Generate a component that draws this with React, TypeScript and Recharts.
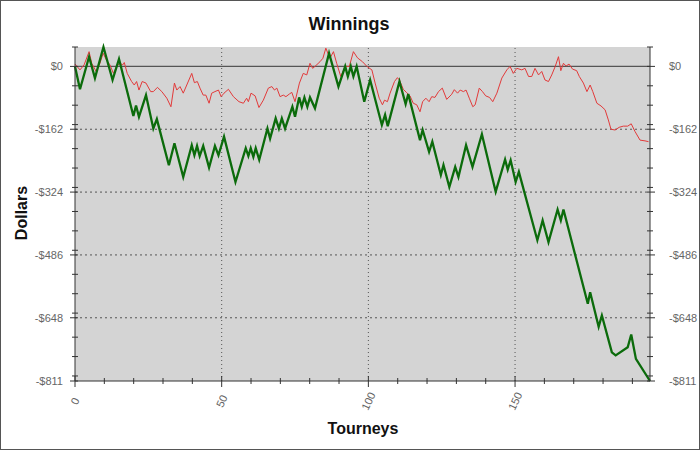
import React from 'react';
import { LineChart, Line, XAxis, YAxis, CartesianGrid, ReferenceLine } from 'recharts';

// [tourney, dollars]
const redPts: [number, number][] = [
  [0, 6], [1.7, -9], [3.1, 4], [4.8, 38], [5.7, 8], [7.2, -13], [8.5, 8], [9.6, 34], [10.8, 15], [11.9, 4],
  [13.1, -18], [14.2, 0], [15.3, 8], [16.3, 4], [16.8, 10], [17.8, -18], [19.3, -39], [20.2, -48], [21, -39], [21.8, -61],
  [22.9, -39], [24.2, -43], [25.8, -65], [26.7, -65], [28.1, -54], [29.6, -65], [31.3, -82], [32.7, -104], [33.9, -43], [34.7, -61],
  [35.8, -52], [36.9, -69], [39.8, -18], [40.7, -42], [41.7, -39], [42.6, -56], [43.7, -74], [44.6, -74], [45.7, -95], [46.6, -69],
  [47.7, -65], [48.9, -61], [49.8, -78], [50.8, -69], [52.3, -59], [54, -78], [55.9, -91], [57.4, -95], [58.5, -82], [59.1, -91],
  [60, -69], [61.4, -76], [62.7, -106], [64.2, -87], [65.9, -56], [67.1, -52], [68, -61], [68.8, -56], [69.9, -78], [71, -74],
  [71.9, -78], [73.1, -71], [73.9, -67], [75, -91], [76.5, -43], [77.8, -18], [79, -22], [80.1, 8], [81, -5], [81.8, 0],
  [83.5, 12], [84.5, 21], [85.5, 47], [86.9, 21], [88.1, 38], [89.2, 8], [90.6, -26], [92.1, 0], [93.5, 0], [94.9, 38],
  [96.3, 22], [98, 12], [99.5, 0], [101.2, -9], [102.3, -43], [103.7, -82], [104.8, -99], [105.5, -87], [106.5, -91], [107.4, -69],
  [108.9, -39], [109.9, -29], [110.6, -35], [111.9, -59], [113.1, -68], [114.2, -76], [115.3, -95], [116.5, -99], [117.6, -117], [118.5, -91],
  [119.6, -82], [120.7, -91], [121.6, -78], [122.7, -80], [123.9, -65], [125.2, -56], [126.7, -85], [128.4, -72], [129.3, -60], [130.4, -69],
  [131.3, -61], [132.4, -65], [133.3, -61], [134.4, -82], [135.6, -104], [136.4, -99], [137.8, -56], [138.9, -65], [140, -76], [141.3, -80],
  [142.4, -91], [143.8, -69], [145.5, -30], [147.2, -9], [148.3, 0], [149.4, -18], [150.6, -5], [152.3, -9], [153.4, -5], [154.6, -26],
  [155.7, -26], [156.8, -5], [158, -22], [159.1, -13], [160.2, -35], [161.4, -39], [162.5, -22], [163.7, 0], [164.8, 25], [165.6, -11],
  [166.5, 8], [167.4, 1], [168.4, 6], [169.6, -7], [171, -11], [171.9, -26], [173.3, -43], [174.5, -65], [175.6, -48], [176.5, -65],
  [177.9, -95], [179.3, -102], [180.7, -112], [181.8, -138], [182.7, -162], [184.1, -164], [185.5, -157], [186.9, -154], [188.4, -154], [189.6, -148],
  [190.9, -168], [192.6, -190], [194.3, -192], [195.5, -194],
];

const greenPts: [number, number][] = [
  [0, 0], [1.7, -59], [4.8, 25], [6.8, -30], [9.7, 50], [12.8, -35], [15, 19], [19.9, -128], [20.8, -101], [21.8, -130],
  [24.2, -74], [26.7, -160], [27.9, -136], [32, -255], [33.9, -198], [36.9, -285], [39.8, -203], [40.7, -229], [41.6, -205], [42.5, -231],
  [43.7, -205], [45.7, -261], [47.7, -205], [48.9, -229], [50.8, -181], [54.7, -298], [58.2, -211], [59.1, -231], [59.9, -211], [60.8, -233],
  [61.6, -211], [62.8, -241], [65.6, -160], [66.5, -186], [68.4, -134], [69.5, -160], [70.5, -134], [71.6, -160], [74.1, -104], [75, -130],
  [76.4, -80], [77.3, -104], [78.2, -80], [79.2, -104], [80.1, -80], [81.8, -108], [86.6, 34], [89.8, -52], [92.1, 0], [93, -26],
  [94, 0], [94.9, -26], [96, 0], [98.6, -91], [100.6, -35], [104.6, -151], [105.7, -125], [106.6, -154], [110.6, -39], [112.7, -97],
  [113.6, -71], [117.6, -190], [118.5, -164], [120.7, -220], [121.8, -194], [124.7, -280], [125.6, -254], [127.6, -311], [129.6, -259], [130.7, -285],
  [133.3, -203], [135.5, -259], [138.7, -175], [143.4, -323], [146.6, -240], [147.5, -266], [148.5, -242], [150.2, -298], [151.3, -272], [157.6, -448],
  [159.4, -397], [161.4, -453], [164.5, -369], [165.6, -397], [166.5, -369], [174.8, -612], [175.6, -582], [178.5, -671], [179.6, -642], [183, -737],
  [184.3, -745], [188.4, -724], [189.6, -691], [191.2, -754], [196, -811],
];

const xMajor = [0, 50, 100, 150];
const xTicks = [0, 10, 20, 30, 40, 50, 60, 70, 80, 90, 100, 110, 120, 130, 140, 150, 160, 170, 180, 190];
const yMajor = [0, -162, -324, -486, -648, -811];
const yMinor = [50, -50, -100, -150, -212, -262, -312, -374, -424, -474, -536, -586, -636, -698, -748, -798];
const yTicks = [...yMajor, ...yMinor].sort((a, b) => b - a);

const redData = redPts.map(([t, v]) => ({ t, v }));
const greenData = greenPts.map(([t, v]) => ({ t, v }));

const font = '"Liberation Sans", Arial, sans-serif';
const axisCol = '#333';
const lblCol = '#666';
const yDomain: [number, number] = [-811, 50];
const money = (v: number) => (v === 0 ? '$0' : `-$${Math.abs(v)}`);

const XTick = (p: any) => {
  const { x, y, payload } = p;
  const major = xMajor.includes(payload.value);
  return (
    <g>
      <line x1={x} x2={x} y1={y - (major ? 5 : 3)} y2={y + (major ? 6 : 3)} stroke={axisCol} />
      {major && (
        <text x={x} y={y + 20} textAnchor="middle" dominantBaseline="central" fontSize={11} fill={lblCol}
          fontFamily={font} transform={`rotate(-65 ${x} ${y + 20})`}>{payload.value}</text>
      )}
    </g>
  );
};

const LeftTick = (p: any) => {
  const { x, y, payload } = p;
  const major = yMajor.includes(payload.value);
  return (
    <g>
      <line x1={x - (major ? 5 : 3)} x2={x + 3} y1={y} y2={y} stroke={axisCol} />
      {major && (
        <text x={x - 12} y={y} textAnchor="end" dominantBaseline="central" fontSize={11} fill={lblCol}
          fontFamily={font}>{money(payload.value)}</text>
      )}
    </g>
  );
};

const RightTick = (p: any) => {
  const { x, y, payload } = p;
  const major = yMajor.includes(payload.value);
  return (
    <g>
      <line x1={x - 3} x2={x + (major ? 5 : 3)} y1={y} y2={y} stroke={axisCol} />
      {major && (
        <text x={x + 19} y={y} textAnchor="start" dominantBaseline="central" fontSize={11} fill={lblCol}
          fontFamily={font}>{money(payload.value)}</text>
      )}
    </g>
  );
};

export default function App() {
  return (
    <div style={{ position: 'absolute', left: 0, top: 0, width: 700, height: 450, background: '#fff', boxSizing: 'border-box', border: '1px solid #555' }}>
      <div style={{ position: 'absolute', left: -1, top: -1 }}>
        <LineChart width={700} height={450} margin={{ top: 47, right: 0, bottom: 0, left: 15 }}>
          <CartesianGrid horizontal={false} vertical={false} fill="#d4d4d4" stroke="none" yAxisId="left" />
          <XAxis dataKey="t" type="number" domain={[0, 196]} ticks={xTicks} interval={0} allowDuplicatedCategory={false}
            height={69} tickSize={0} tickMargin={0} tickLine={false} stroke={axisCol} tick={XTick} />
          <YAxis yAxisId="left" type="number" domain={yDomain} ticks={yTicks} interval={0} width={60}
            tickSize={0} tickMargin={0} tickLine={false} stroke={axisCol} tick={LeftTick} />
          <YAxis yAxisId="right" orientation="right" type="number" domain={yDomain} ticks={yTicks} interval={0} width={50}
            tickSize={0} tickMargin={0} tickLine={false} stroke={axisCol} tick={RightTick} />
          {yMajor.slice(1, 5).map((v) => (
            <ReferenceLine key={v} yAxisId="left" y={v} stroke="#555" strokeDasharray="2 3" />
          ))}
          {xMajor.slice(1).map((v) => (
            <ReferenceLine key={v} yAxisId="left" x={v} stroke="#555" strokeDasharray="1 3" />
          ))}
          <ReferenceLine yAxisId="left" y={0} stroke="#555" strokeWidth={1.2} />
          <Line yAxisId="left" data={redData} dataKey="v" type="linear" stroke="#e23a3a" strokeWidth={1} dot={false} isAnimationActive={false} />
          <Line yAxisId="right" data={greenData} dataKey="v" type="linear" stroke="#0b6b0b" strokeWidth={2.3} dot={false} isAnimationActive={false} />
        </LineChart>
      </div>
      <svg width={700} height={450} style={{ position: 'absolute', left: -1, top: -1, pointerEvents: 'none' }}>
        <text x={349} y={30} textAnchor="middle" fontFamily={font} fontWeight="bold" fontSize={18} fill="#111">Winnings</text>
        <text x={363} y={434} textAnchor="middle" fontFamily={font} fontWeight="bold" fontSize={16} fill="#111">Tourneys</text>
        <text x={27} y={213} textAnchor="middle" fontFamily={font} fontWeight="bold" fontSize={16} fill="#111"
          transform="rotate(-90 27 213)">Dollars</text>
      </svg>
    </div>
  );
}
